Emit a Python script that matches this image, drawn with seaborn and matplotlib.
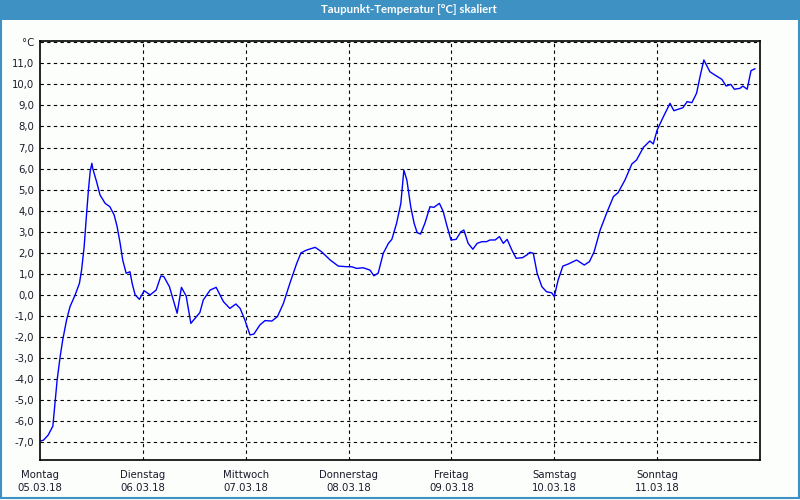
import matplotlib
matplotlib.use("Agg")
import matplotlib.pyplot as plt
import seaborn as sns
import pandas as pd
from matplotlib.patches import Rectangle

title = "Taupunkt-Temperatur [°C] skaliert"
unit_label = "°C"
day_names = ["Montag", "Dienstag", "Mittwoch", "Donnerstag", "Freitag", "Samstag", "Sonntag"]
day_dates = ["05.03.18", "06.03.18", "07.03.18", "08.03.18", "09.03.18", "10.03.18", "11.03.18"]
y_ticks = list(range(-7, 13))

# hours since Monday 05.03.18 00:00
hours = [0.0, 0.8, 1.9, 3.0, 3.5, 4.0, 4.7, 5.3, 6.2, 7.0, 8.2, 9.2, 9.7, 10.3, 10.7, 11.3,
         11.7, 12.1, 12.3, 13.2, 14.0, 15.2, 16.3, 17.3, 18.0, 18.7, 19.3, 20.1, 21.0, 21.5,
         22.2, 23.2, 24.3, 25.7, 27.1, 28.2, 28.9, 30.2, 31.1, 32.0, 33.0, 34.1, 35.2, 36.2,
         37.3, 38.1, 39.7, 41.1, 42.8, 44.3, 45.7, 46.7, 47.8, 49.0, 49.9, 51.3, 52.5, 54.1,
         55.4, 56.8, 58.3, 59.9, 60.9, 62.2, 64.2, 65.7, 67.7, 69.6, 71.6, 72.7, 73.9, 75.4,
         77.0, 77.9, 78.9, 80.1, 81.3, 82.1, 83.2, 84.2, 84.9, 85.6, 86.5, 87.3, 88.0, 88.8,
         89.8, 91.0, 91.9, 93.2, 94.1, 94.9, 95.9, 97.1, 98.2, 98.9, 99.9, 101.0, 102.0, 103.1,
         104.2, 105.0, 106.2, 107.2, 108.1, 109.0, 110.1, 111.1, 112.6, 113.6, 114.3, 115.1,
         116.0, 117.1, 118.2, 119.4, 120.0, 120.9, 122.0, 123.3, 125.2, 127.0, 128.2, 129.3,
         130.7, 132.2, 133.8, 134.9, 136.5, 138.1, 139.2, 140.8, 142.3, 143.1, 144.0, 145.4,
         147.0, 147.9, 150.0, 151.0, 152.1, 153.2, 154.0, 154.9, 156.3, 157.5, 159.1, 160.1,
         161.2, 162.0, 163.3, 164.0, 165.0, 165.9, 166.8]
taupunkt = [-6.94, -6.90, -6.66, -6.23, -5.15, -4.04, -2.93, -2.14, -1.19, -0.56, 0.0, 0.55,
            1.18, 2.29, 3.40, 4.98, 5.85, 6.25, 6.01, 5.38, 4.75, 4.35, 4.19, 3.80, 3.24, 2.45,
            1.66, 1.03, 1.10, 0.55, 0.0, -0.21, 0.20, 0.0, 0.23, 0.90, 0.87, 0.39, -0.24, -0.87,
            0.36, -0.05, -1.35, -1.11, -0.84, -0.24, 0.23, 0.36, -0.32, -0.64, -0.43, -0.64,
            -1.19, -1.90, -1.86, -1.43, -1.22, -1.24, -1.03, -0.40, 0.55, 1.50, 2.0, 2.13, 2.26,
            2.05, 1.66, 1.37, 1.34, 1.34, 1.26, 1.29, 1.18, 0.91, 1.03, 1.98, 2.45, 2.64, 3.40,
            4.35, 5.93, 5.46, 4.19, 3.40, 2.96, 2.89, 3.40, 4.19, 4.16, 4.35, 3.95, 3.32, 2.61,
            2.64, 3.00, 3.08, 2.45, 2.17, 2.45, 2.53, 2.53, 2.61, 2.61, 2.77, 2.45, 2.64, 2.13,
            1.74, 1.77, 1.90, 2.02, 1.98, 1.03, 0.39, 0.15, 0.10, -0.08, 0.71, 1.37, 1.47, 1.66,
            1.42, 1.58, 2.05, 3.08, 3.88, 4.67, 4.86, 5.46, 6.22, 6.41, 7.01, 7.31, 7.17, 7.83,
            8.44, 9.10, 8.75, 8.89, 9.18, 9.13, 9.58, 10.36, 11.16, 10.60, 10.44, 10.24, 9.92,
            10.0, 9.77, 9.81, 9.92, 9.77, 10.65, 10.74]

df = pd.DataFrame({"h": hours, "t": taupunkt})

bg = "#fcfefc"
blue_bar = "#3d91c3"
fig = plt.figure(figsize=(8, 5), dpi=100, facecolor=bg)
ax = fig.add_axes([0.05, 0.08, 0.90, 0.838])
ax.set_facecolor(bg)

sns.lineplot(data=df, x="h", y="t", ax=ax, color="#0000ff", linewidth=1.0)

ax.set_xlim(0, 168)
ax.set_ylim(-7.84, 12.06)

grid_kw = dict(color="black", linewidth=0.8, linestyle=(0, (3, 3)), zorder=0.5)
for v in y_ticks:
    ax.axhline(v, **grid_kw)
for d in range(1, 7):
    ax.axvline(d * 24, **grid_kw)

ax.set_yticks(y_ticks)
ax.set_yticklabels([unit_label if v == 12 else f"{v:.1f}".replace(".", ",") for v in y_ticks])
ax.set_xticks([d * 24 for d in range(7)])
ax.set_xticklabels([f"{n}\n{d}" for n, d in zip(day_names, day_dates)])
for lab in ax.get_xticklabels():
    lab.set_linespacing(1.45)
ax.tick_params(axis="both", length=0, labelsize=7.3, colors="#1a1a2a")
ax.tick_params(axis="y", pad=4)
ax.tick_params(axis="x", pad=7)
ax.set_xlabel("")
ax.set_ylabel("")
for s in ax.spines.values():
    s.set_color("black")
    s.set_linewidth(1.2)

# title bar
fig.patches.append(Rectangle((0, 0.96), 1, 0.04, transform=fig.transFigure,
                             facecolor=blue_bar, edgecolor="none", zorder=0))
fig.text(0.511, 0.9815, title, ha="center", va="center", color="white",
         fontsize=8.2, fontweight="bold", family=["Lato", "DejaVu Sans"])
# outer frame
fig.patches.append(Rectangle((0.001, 0.005), 0.998, 0.99, transform=fig.transFigure,
                             facecolor="none", edgecolor=blue_bar, linewidth=1.5, zorder=0))

fig.savefig("out.png", dpi=100, facecolor=bg)
